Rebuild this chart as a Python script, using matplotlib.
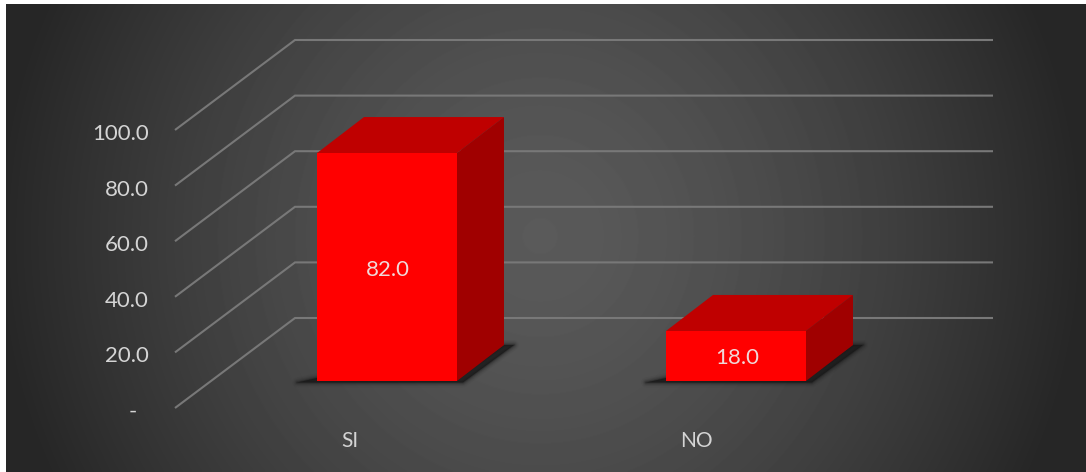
import numpy as np
import matplotlib
matplotlib.use("Agg")
import matplotlib.pyplot as plt
from matplotlib.patches import Polygon
from matplotlib.transforms import ScaledTranslation

# --- data ---
categories = ["SI", "NO"]
values = [82.0, 18.0]
y_ticks = [0, 20, 40, 60, 80, 100]
y_tick_labels = ["-  ", "20.0", "40.0", "60.0", "80.0", "100.0"]

# --- layout (pixels) ---
W, H = 1086, 472
AX_L, AX_R, AX_T, AX_B = 175, 993, 40, 408
PX_PER_UNIT = 2.78      # px per value unit
PX_PER_CAT = 349        # px per category
CAT0_PX = 387
plt.rcParams["font.family"] = ["Lato", "DejaVu Sans"]
TEXT = "#d4d4d4"

fig = plt.figure(figsize=(W / 100, H / 100), dpi=100, facecolor="white")

# background radial gradient
bg = fig.add_axes([6 / W, 0, (W - 6) / W, (H - 4) / H], zorder=0)
yy, xx = np.mgrid[4:H, 6:W]
r = np.sqrt(((xx - 540) / 545.0) ** 2 + ((yy - 236) / 560.0) ** 2)
shade = np.clip(0x5a - (0x5a - 0x26) * np.clip(r, 0, 1) ** 1.45, 0, 255) / 255
bg.imshow(shade, cmap="gray", vmin=0, vmax=1, aspect="auto", interpolation="bilinear")
bg.axis("off")

ax = fig.add_axes([AX_L / W, (H - AX_B) / H, (AX_R - AX_L) / W, (AX_B - AX_T) / H], zorder=1)
ax.patch.set_alpha(0)
ax.set_xlim((AX_L - CAT0_PX) / PX_PER_CAT, (AX_R - CAT0_PX) / PX_PER_CAT)
ax.set_ylim(0, (AX_B - AX_T) / PX_PER_UNIT)
for s in ax.spines.values():
    s.set_visible(False)

ux = 1 / PX_PER_CAT      # one pixel in x data units
uy = 1 / PX_PER_UNIT     # one pixel in y data units

# perspective walls: grid lines
WALL_DX, WALL_DY = 120, 90
x_front = ax.get_xlim()[0]
x_end = ax.get_xlim()[1]
for v in y_ticks:
    ax.plot([x_front, x_front + WALL_DX * ux, x_end],
            [v, v + WALL_DY * uy, v + WALL_DY * uy],
            color="#787878", lw=1.5, solid_joinstyle="miter", solid_capstyle="butt",
            clip_on=False, zorder=1)

# 3-D bars
BAR_W = 140
DEPTH_DX, DEPTH_DY = 47, 36
BASE_LIFT = 27
x_pos = np.arange(len(categories), dtype=float)
for c, v in zip(x_pos, values):
    l = c - BAR_W / 2 * ux
    r_ = c + BAR_W / 2 * ux
    b = BASE_LIFT * uy
    t = b + v
    ddx = DEPTH_DX * ux
    ddy = DEPTH_DY * uy

    # soft ground shadow: layered strokes around a thin wedge
    shadow = [(l - 20 * ux, b - 1.5 * uy), (l, b + 3 * uy), (r_, b + 3 * uy),
              (r_ + ddx, b + ddy), (r_ + ddx + 10 * ux, b + ddy + 0 * uy), (r_ + 6 * ux, b - 1.5 * uy)]
    for lw, a in [(7, .05), (5, .08), (3.5, .12), (2, .18), (1, .25)]:
        ax.add_patch(Polygon(shadow, closed=True, fc="none", ec="#161616", lw=lw, alpha=a,
                             joinstyle="round", clip_on=False, zorder=2))
    ax.add_patch(Polygon(shadow, closed=True, fc="#161616", ec="none", clip_on=False, zorder=2, alpha=.75))
    # top, side, front
    ax.add_patch(Polygon([(l, t), (r_, t), (r_ + ddx, t + ddy), (l + ddx, t + ddy)],
                         closed=True, fc="#bf0000", ec="none", clip_on=False, zorder=3))
    ax.add_patch(Polygon([(r_, b), (r_ + ddx, b + ddy), (r_ + ddx, t + ddy), (r_, t)],
                         closed=True, fc="#a00000", ec="none", clip_on=False, zorder=3))
    ax.add_patch(Polygon([(l, b), (r_, b), (r_, t), (l, t)],
                         closed=True, fc="#ff0000", ec="none", clip_on=False, zorder=4))
    ax.text(c + 1 * ux, b + v / 2 - 2.5 * uy, f"{v:.1f}", ha="center", va="center",
            color="#f0d8d8", fontsize=16, zorder=5)

# axis labels
ax.set_yticks(y_ticks, y_tick_labels)
LABEL_SHIFT = [37 * ux, 40 * ux]
ax.set_xticks(x_pos - np.array(LABEL_SHIFT), categories)
ax.tick_params(axis="y", length=0, pad=19, labelsize=16, labelcolor=TEXT)
ax.tick_params(axis="x", length=0, pad=16.5, labelsize=15, labelcolor=TEXT)
down = ScaledTranslation(0, -1.5 / 72, fig.dpi_scale_trans)
for lab in ax.get_yticklabels():
    lab.set_transform(lab.get_transform() + down)

fig.savefig("out.png", dpi=100, facecolor="white")
